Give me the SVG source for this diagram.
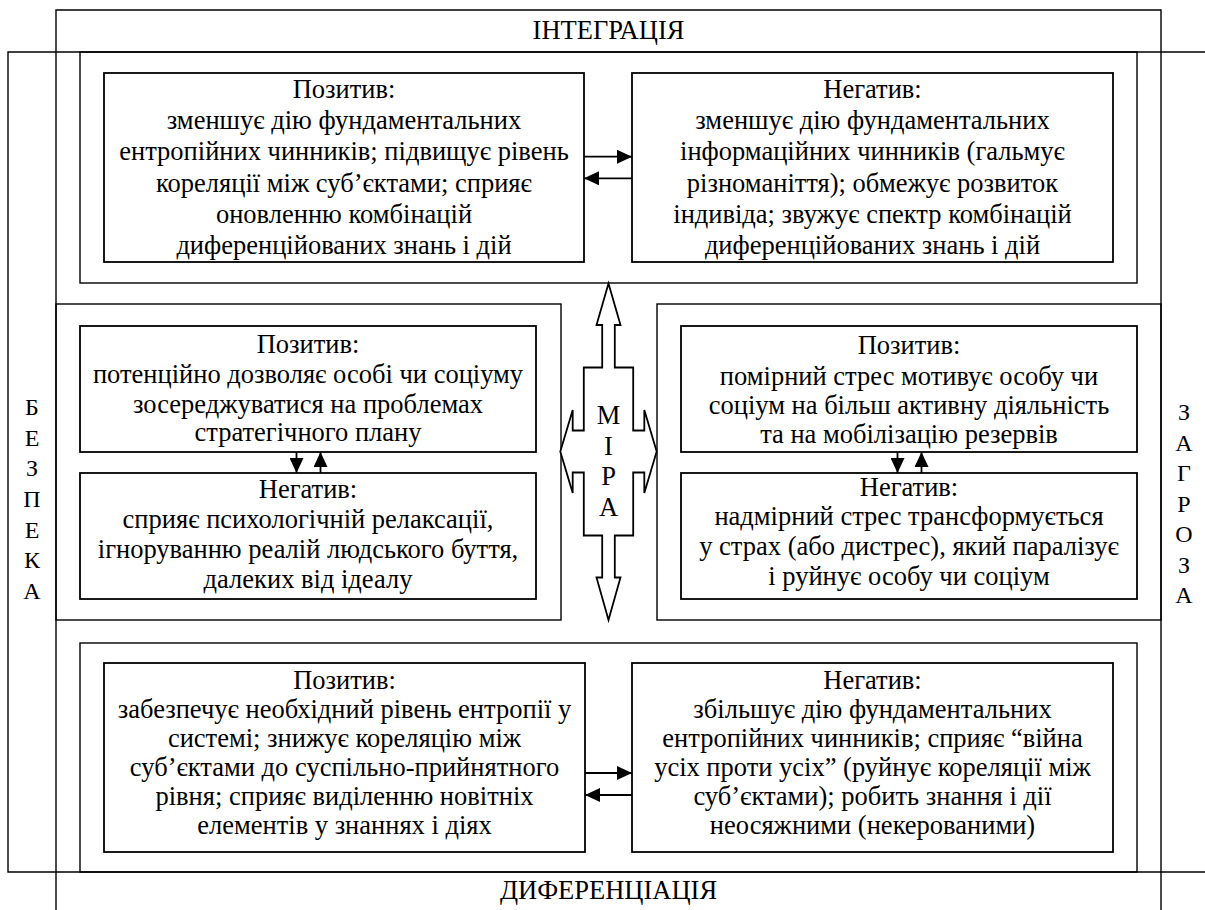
<svg xmlns="http://www.w3.org/2000/svg" width="1205" height="910" viewBox="0 0 1205 910">
<style>
text{font-family:"Liberation Serif","Times New Roman",serif;font-size:26.5px;fill:#000;text-anchor:middle}
.side{font-size:24px}
.frame{fill:none;stroke:#000;stroke-width:1.4}
.box{fill:none;stroke:#000;stroke-width:1.8}
.arr{stroke:#000;stroke-width:1.8;fill:none;marker-end:url(#ah)}
</style>
<defs>
<marker id="ah" viewBox="0 0 15 14" refX="15" refY="7" markerWidth="15" markerHeight="14" markerUnits="userSpaceOnUse" orient="auto"><path d="M0,0 L15,7 L0,14 z" fill="#000"/></marker>
</defs>
<rect width="1205" height="910" fill="#fff"/>
<g font-family="Liberation Serif" font-size="26.5" text-anchor="middle">

<g id="frame-integration">
<path class="frame" d="M56,910 V10 H1161 V910"/>
<text x="608.5" y="39">ІНТЕГРАЦІЯ</text>
</g>
<g id="frame-safety-threat">
<path class="frame" d="M1205,52 H8 V872 H1205"/>
</g>
<g id="label-differentiation">
<text x="608.5" y="899">ДИФЕРЕНЦІАЦІЯ</text>
</g>
<g id="label-safety">
<text class="side" x="32" y="415">Б</text>
<text class="side" x="32" y="445.5">Е</text>
<text class="side" x="32" y="476">З</text>
<text class="side" x="32" y="507">П</text>
<text class="side" x="32" y="537.5">Е</text>
<text class="side" x="32" y="568">К</text>
<text class="side" x="32" y="599">А</text>
</g>
<g id="label-threat">
<text class="side" x="1184" y="420">З</text>
<text class="side" x="1184" y="450.5">А</text>
<text class="side" x="1184" y="481">Г</text>
<text class="side" x="1184" y="511.5">Р</text>
<text class="side" x="1184" y="542">О</text>
<text class="side" x="1184" y="572.5">З</text>
<text class="side" x="1184" y="603">А</text>
</g>

<g id="section-top">
<rect class="frame" x="80" y="52" width="1057" height="231"/>
</g>
<g id="top-positive">
<rect class="box" x="104" y="73" width="480" height="189"/>
<text x="344" y="98">Позитив:</text>
<text x="344" y="129.2">зменшує дію фундаментальних</text>
<text x="344" y="160.4">ентропійних чинників; підвищує рівень</text>
<text x="344" y="191.6">кореляції між суб’єктами; сприяє</text>
<text x="344" y="222.8">оновленню комбінацій</text>
<text x="344" y="254">диференційованих знань і дій</text>
</g>
<g id="top-negative">
<rect class="box" x="632" y="73" width="481" height="189"/>
<text x="872.5" y="98">Негатив:</text>
<text x="872.5" y="129.2">зменшує дію фундаментальних</text>
<text x="872.5" y="160.4">інформаційних чинників (гальмує</text>
<text x="872.5" y="191.6">різноманіття); обмежує розвиток</text>
<text x="872.5" y="222.8">індивіда; звужує спектр комбінацій</text>
<text x="872.5" y="254">диференційованих знань і дій</text>
</g>

<g id="section-middle-left">
<rect class="frame" x="56" y="304" width="505" height="316"/>
</g>
<g id="mid-left-positive">
<rect class="box" x="80" y="326" width="456" height="126"/>
<text x="308" y="353">Позитив:</text>
<text x="308" y="383">потенційно дозволяє особі чи соціуму</text>
<text x="308" y="412.5">зосереджуватися на проблемах</text>
<text x="308" y="441">стратегічного плану</text>
</g>
<g id="mid-left-negative">
<rect class="box" x="80" y="473" width="456" height="126"/>
<text x="308" y="498">Негатив:</text>
<text x="308" y="528">сприяє психологічній релаксації,</text>
<text x="308" y="558">ігноруванню реалій людського буття,</text>
<text x="308" y="588">далеких від ідеалу</text>
</g>

<g id="section-middle-right">
<rect class="frame" x="657" y="304" width="504" height="316"/>
</g>
<g id="mid-right-positive">
<rect class="box" x="681" y="326" width="456" height="126"/>
<text x="909" y="354">Позитив:</text>
<text x="909" y="384.5">помірний стрес мотивує особу чи</text>
<text x="909" y="414">соціум на більш активну діяльність</text>
<text x="909" y="443">та на мобілізацію резервів</text>
</g>
<g id="mid-right-negative">
<rect class="box" x="681" y="473" width="456" height="126"/>
<text x="909" y="496">Негатив:</text>
<text x="909" y="525">надмірний стрес трансформується</text>
<text x="909" y="555">у страх (або дистрес), який паралізує</text>
<text x="909" y="585">і руйнує особу чи соціум</text>
</g>

<g id="section-bottom">
<rect class="frame" x="80" y="643" width="1057" height="229"/>
</g>
<g id="bottom-positive">
<rect class="box" x="104" y="663" width="481" height="189"/>
<text x="344.5" y="689">Позитив:</text>
<text x="344.5" y="718">забезпечує необхідний рівень ентропії у</text>
<text x="344.5" y="747">системі; знижує кореляцію між</text>
<text x="344.5" y="776">суб’єктами до суспільно-прийнятного</text>
<text x="344.5" y="805">рівня; сприяє виділенню новітніх</text>
<text x="344.5" y="834">елементів у знаннях і діях</text>
</g>
<g id="bottom-negative">
<rect class="box" x="632" y="663" width="481" height="189"/>
<text x="872.5" y="689">Негатив:</text>
<text x="872.5" y="718">збільшує дію фундаментальних</text>
<text x="872.5" y="747">ентропійних чинників; сприяє “війна</text>
<text x="872.5" y="776">усіх проти усіх” (руйнує кореляції між</text>
<text x="872.5" y="805">суб’єктами); робить знання і дії</text>
<text x="872.5" y="834">неосяжними (некерованими)</text>
</g>

<g id="measure">
<polygon fill="#fff" stroke="#000" stroke-width="1.8" points="608.5,283.5 620.5,325 614.8,325 614.8,367.5 633.2,367.5 633.2,430.5 644.3,430.5 644.3,410 656.7,451.5 644.3,493 644.3,472.5 633.2,472.5 633.2,535.5 614.8,535.5 614.8,577.5 620.5,577.5 608.5,620 596.5,577.5 602.2,577.5 602.2,535.5 583.8,535.5 583.8,472.5 572.7,472.5 572.7,493 560.3,451.5 572.7,410 572.7,430.5 583.8,430.5 583.8,367.5 602.2,367.5 602.2,325 596.5,325"/>
<text x="608.5" y="424">М</text>
<text x="608.5" y="455">І</text>
<text x="608.5" y="485">Р</text>
<text x="608.5" y="516">А</text>
</g>

<g id="connectors">
<line class="arr" x1="584" y1="156.7" x2="632" y2="156.7"/>
<line class="arr" x1="632" y1="178.3" x2="584" y2="178.3"/>
<line class="arr" x1="296.5" y1="452" x2="296.5" y2="473"/>
<line class="arr" x1="320.5" y1="473" x2="320.5" y2="452"/>
<line class="arr" x1="897.5" y1="452" x2="897.5" y2="473"/>
<line class="arr" x1="921.5" y1="473" x2="921.5" y2="452"/>
<line class="arr" x1="585" y1="773" x2="632" y2="773"/>
<line class="arr" x1="632" y1="795" x2="585" y2="795"/>
</g>
</g>
</svg>
